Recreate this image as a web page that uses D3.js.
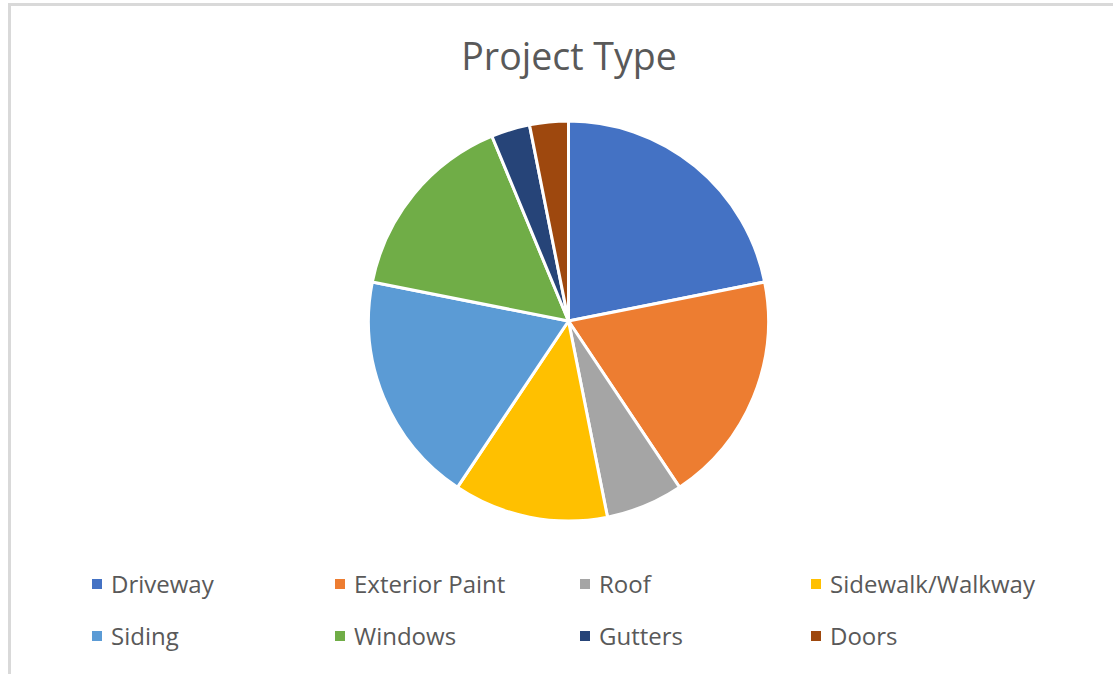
<!DOCTYPE html>
<html>
<head>
<meta charset="utf-8">
<script src="https://cdn.jsdelivr.net/npm/d3@7"></script>
<style>
  html, body { margin: 0; padding: 0; background: #ffffff; }
  svg { display: block; }
</style>
</head>
<body>
<svg id="chart" width="1113" height="674"></svg>
<script>
const categories = ["Driveway", "Exterior Paint", "Roof", "Sidewalk/Walkway", "Siding", "Windows", "Gutters", "Doors"];
const counts = [7, 6, 2, 4, 6, 5, 1, 1];
const colors = ["#4472C4", "#ED7D31", "#A5A5A5", "#FFC000", "#5B9BD5", "#70AD47", "#264478", "#9E480E"];
const chartTitle = "Project Type";

const data = categories.map((c, i) => ({ name: c, value: counts[i] }));
const svg = d3.select("#chart");
const W = 1113, H = 674;

// chart area border (top and left visible)
svg.append("rect").attr("x", 9.5).attr("y", 4.5).attr("width", W + 20).attr("height", H + 20)
  .attr("fill", "#ffffff").attr("stroke", "#d9d9d9").attr("stroke-width", 3);

svg.append("text").attr("x", 569).attr("y", 70).attr("text-anchor", "middle")
  .attr("font-family", "'Open Sans', sans-serif").attr("font-size", 37.5)
  .attr("fill", "#595959").text(chartTitle);

const color = d3.scaleOrdinal().domain(categories).range(colors);
const pie = d3.pie().value(d => d.value).sort(null);
const radius = 200;
const arc = d3.arc().innerRadius(0).outerRadius(radius);

const g = svg.append("g").attr("transform", "translate(568.5,321)");
g.selectAll("path").data(pie(data)).join("path")
  .attr("d", arc).attr("fill", d => color(d.data.name))
  .attr("stroke", "#ffffff").attr("stroke-width", 3).attr("stroke-linejoin", "round");

// legend: 4 columns x 2 rows
const colX = [92, 335, 580, 811];
const rowY = [584, 636];
const legend = svg.append("g");
const items = legend.selectAll("g").data(categories).join("g")
  .attr("transform", (d, i) => `translate(${colX[i % 4]},${rowY[Math.floor(i / 4)]})`);
items.append("rect").attr("x", 0).attr("y", -5).attr("width", 10).attr("height", 10)
  .attr("fill", d => color(d));
items.append("text").attr("x", 19).attr("y", 8.5)
  .attr("font-family", "'Open Sans', sans-serif").attr("font-size", 24)
  .attr("fill", "#595959").text(d => d);
</script>
</body>
</html>
